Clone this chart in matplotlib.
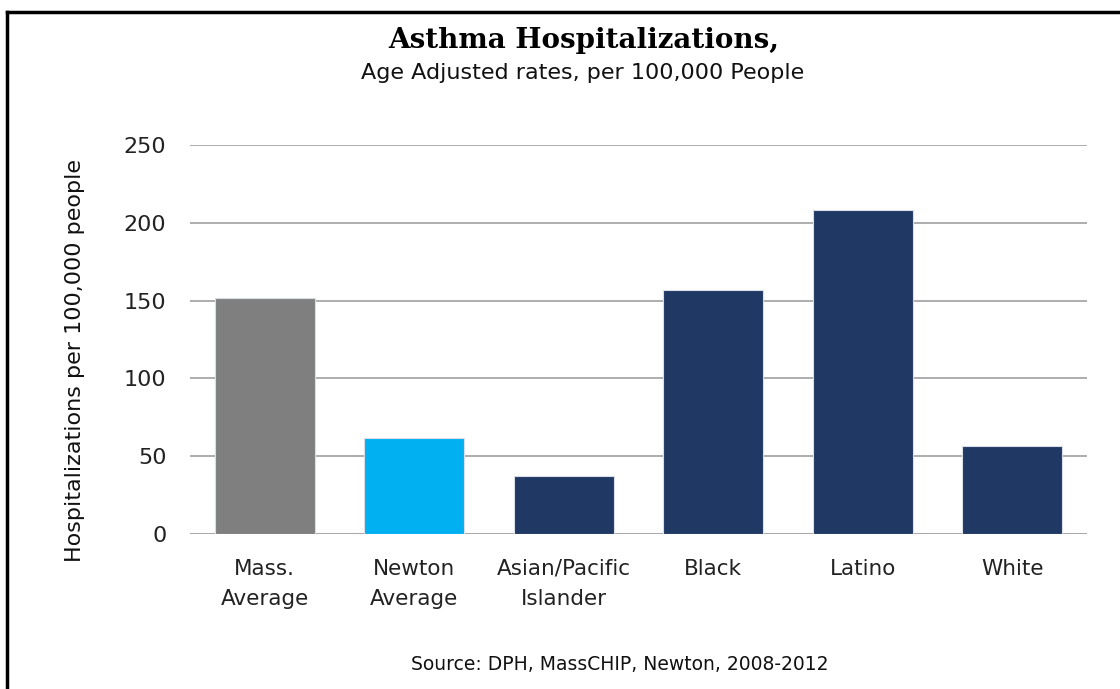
import matplotlib
matplotlib.use("Agg")
import matplotlib.pyplot as plt
from matplotlib.lines import Line2D

categories = ["Mass.\nAverage", "Newton\nAverage", "Asian/Pacific\nIslander", "Black", "Latino", "White"]
values = [151.5, 61.5, 37.5, 157, 208, 56.8]
colors = ["#7f7f7f", "#00b0f0", "#203864", "#203864", "#203864", "#203864"]
yticks = [0, 50, 100, 150, 200, 250]

plt.rcParams['font.family'] = ['DejaVu Sans']

fig = plt.figure(figsize=(11.2, 6.89), dpi=100)
ax = fig.add_axes([190/1120, 1-534/689, (1087-190)/1120, (534-145)/689])

x = range(len(categories))
ax.bar(x, values, width=0.67, color=colors, edgecolor="#d9dde6", linewidth=0.8, zorder=3)
ax.set_xlim(-0.5, len(categories)-0.5)
ax.set_ylim(0, 250)
ax.set_yticks(yticks)
ax.set_yticklabels([str(t) for t in yticks], fontsize=16, color="#222222")
ax.set_xticks(list(x))
ax.set_xticklabels(categories, fontsize=15.5, color="#222222", linespacing=1.65, va="top")
ax.tick_params(axis='both', length=0)
ax.tick_params(axis='x', pad=18)
ax.tick_params(axis='y', pad=17)
ax.yaxis.grid(True, color="#a0a0a0", linewidth=1.2, zorder=0)
for s in ax.spines.values():
    s.set_visible(False)
ax.axhline(0, color="#d9d9d9", linewidth=1.5, zorder=1)

fig.text(75/1120, 1-361/689, "Hospitalizations per 100,000 people", rotation=90,
         ha="center", va="center", fontsize=16, color="#111111")

fig.text(0.521, 1-40/689, "Asthma Hospitalizations,", ha="center", va="center",
         fontsize=20, fontweight="bold", family="DejaVu Serif")
fig.text(583/1120, 1-73/689, "Age Adjusted rates, per 100,000 People", ha="center", va="center",
         fontsize=16, color="#111111")
fig.text(620/1120, 1-664/689, "Source: DPH, MassCHIP, Newton, 2008-2012", ha="center", va="center",
         fontsize=13.5, color="#111111")

# frame lines (left and top)
fig.add_artist(Line2D([7/1120, 7/1120], [0, 1-12/689], color="black", linewidth=2.5, transform=fig.transFigure))
fig.add_artist(Line2D([7/1120, 1], [1-12/689, 1-12/689], color="black", linewidth=2.5, transform=fig.transFigure))

fig.savefig("out.png", dpi=100)
